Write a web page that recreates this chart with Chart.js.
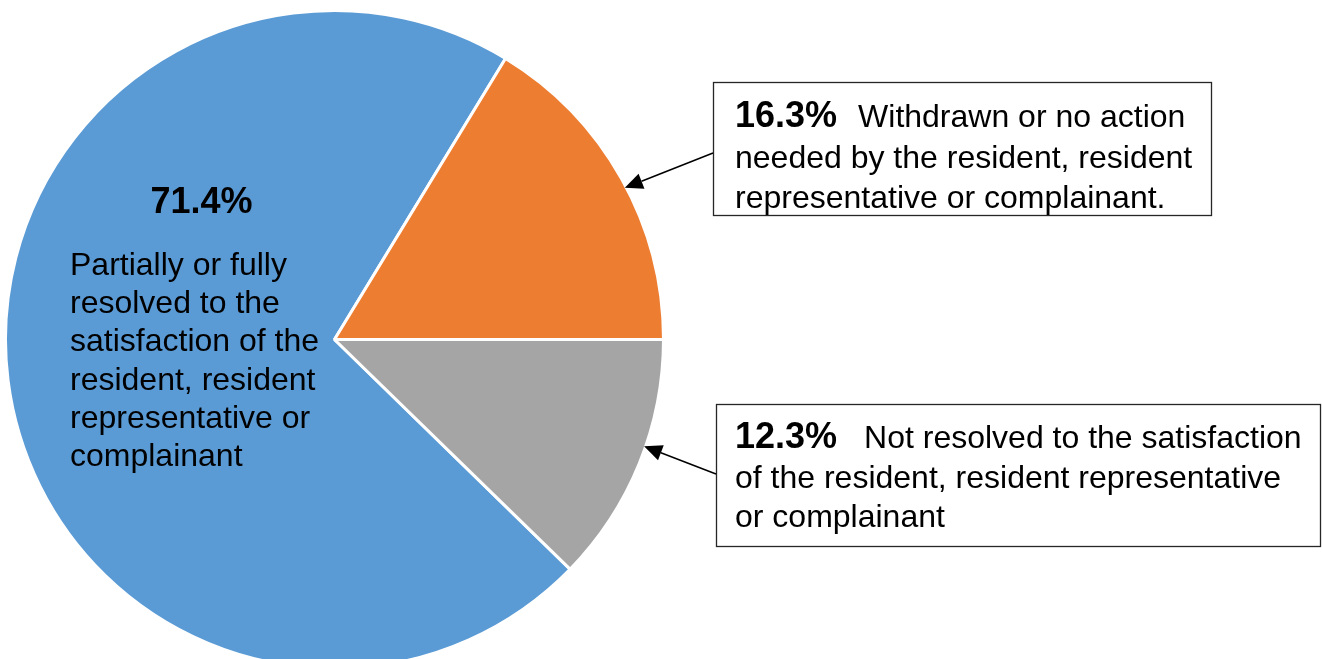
<!DOCTYPE html>
<html>
<head>
<meta charset="utf-8">
<script src="https://cdn.jsdelivr.net/npm/chart.js@4.4.0/dist/chart.umd.min.js"></script>
<style>
  html, body { margin: 0; padding: 0; background: #fff; }
  #wrap { width: 1322px; height: 659px; overflow: hidden; position: relative; }
  #pie { position: absolute; left: 0; top: 0; }
</style>
</head>
<body>
<div id="wrap"><canvas id="pie" width="1322" height="670"></canvas></div>
<script>
/* Complaint outcome shares, one pie with a label inside the big slice
   and two boxed call-outs with arrows for the small ones. */
const CATEGORIES = [
  'Partially or fully resolved to the satisfaction of the resident, resident representative or complainant',
  'Withdrawn or no action needed by the resident, resident representative or complainant.',
  'Not resolved to the satisfaction of the resident, resident representative or complainant',
];
const SHARES = [71.4, 16.3, 12.3];
const PCT_LABELS = ['71.4%', '16.3%', '12.3%'];
const LABEL_LINES = [
  ['Partially or fully', 'resolved to the', 'satisfaction of the', 'resident, resident', 'representative or', 'complainant'],
  ['Withdrawn or no action', 'needed by the resident, resident', 'representative or complainant.'],
  ['Not resolved to the satisfaction', 'of the resident, resident representative', 'or complainant'],
];
const COLORS = ['#5B9BD5', '#ED7D31', '#A5A5A5'];

const FONT = '"Liberation Sans", Arial, sans-serif';
const REG = `32px ${FONT}`;
const BOLD = `bold 36px ${FONT}`;

// where each label sits (page pixels); tipAt = fraction along the slice arc
const LAYOUT = [
  { kind: 'inside', pctX: 201.5, pctY: 213, x: 70, y: 275, lh: 38.2 },
  { kind: 'box', box: [713, 82, 498, 133], x: 735, ys: [127, 167.5, 208], gap: 21,
    from: [713, 153], tipAt: 0.53 },
  { kind: 'box', box: [716, 404, 604, 142], x: 735, ys: [448, 487.5, 527], gap: 27,
    from: [716, 474], tipAt: 0.43 },
];

function arrow(ctx, x0, y0, x1, y1) {
  const a = Math.atan2(y1 - y0, x1 - x0);
  const len = 18, half = 8;
  const bx = x1 - len * Math.cos(a), by = y1 - len * Math.sin(a);
  ctx.beginPath();
  ctx.moveTo(x0, y0); ctx.lineTo(bx, by);
  ctx.lineWidth = 1.5; ctx.strokeStyle = '#000'; ctx.stroke();
  ctx.beginPath();
  ctx.moveTo(x1, y1);
  ctx.lineTo(bx + half * Math.sin(a), by - half * Math.cos(a));
  ctx.lineTo(bx - half * Math.sin(a), by + half * Math.cos(a));
  ctx.closePath(); ctx.fillStyle = '#000'; ctx.fill();
}

const calloutPlugin = {
  id: 'callouts',
  afterDraw(chart) {
    const ctx = chart.ctx;
    const arcs = chart.getDatasetMeta(0).data;
    ctx.save();
    ctx.textBaseline = 'alphabetic';
    ctx.fillStyle = '#000';
    LAYOUT.forEach((L, i) => {
      if (L.kind === 'inside') {
        ctx.font = BOLD; ctx.textAlign = 'center';
        ctx.fillText(PCT_LABELS[i], L.pctX, L.pctY);
        ctx.font = REG; ctx.textAlign = 'left';
        LABEL_LINES[i].forEach((t, k) => ctx.fillText(t, L.x, L.y + k * L.lh));
        return;
      }
      const [bx, by, bw, bh] = L.box;
      ctx.fillStyle = '#fff'; ctx.fillRect(bx, by, bw, bh);
      ctx.lineWidth = 1.3; ctx.strokeStyle = '#262626';
      ctx.strokeRect(bx + 0.5, by + 0.5, bw, bh);
      ctx.fillStyle = '#000'; ctx.textAlign = 'left';
      ctx.font = BOLD;
      ctx.fillText(PCT_LABELS[i], L.x, L.ys[0]);
      const w = ctx.measureText(PCT_LABELS[i]).width;
      ctx.font = REG;
      ctx.fillText(LABEL_LINES[i][0], L.x + w + L.gap, L.ys[0]);
      for (let k = 1; k < LABEL_LINES[i].length; k++) ctx.fillText(LABEL_LINES[i][k], L.x, L.ys[k]);
      // arrow tip lands on the slice rim
      const p = arcs[i].getProps(['x', 'y', 'startAngle', 'endAngle', 'outerRadius'], true);
      const ang = p.startAngle + L.tipAt * (p.endAngle - p.startAngle);
      const r = p.outerRadius - 1.5;
      arrow(ctx, L.from[0], L.from[1], p.x + r * Math.cos(ang), p.y + r * Math.sin(ang));
    });
    ctx.restore();
  },
};

new Chart(document.getElementById('pie'), {
  type: 'pie',
  data: {
    labels: CATEGORIES,
    datasets: [{
      data: SHARES,
      backgroundColor: COLORS,
      borderColor: '#fff',
      borderWidth: 3,
      hoverOffset: 0,
    }],
  },
  options: {
    responsive: false,
    animation: false,
    devicePixelRatio: 1,
    rotation: 90 + SHARES[2] * 3.6,
    layout: { padding: { left: 4, top: 9, right: 657, bottom: 0 } },
    plugins: { legend: { display: false }, tooltip: { enabled: false } },
  },
  plugins: [calloutPlugin],
});
</script>
</body>
</html>
